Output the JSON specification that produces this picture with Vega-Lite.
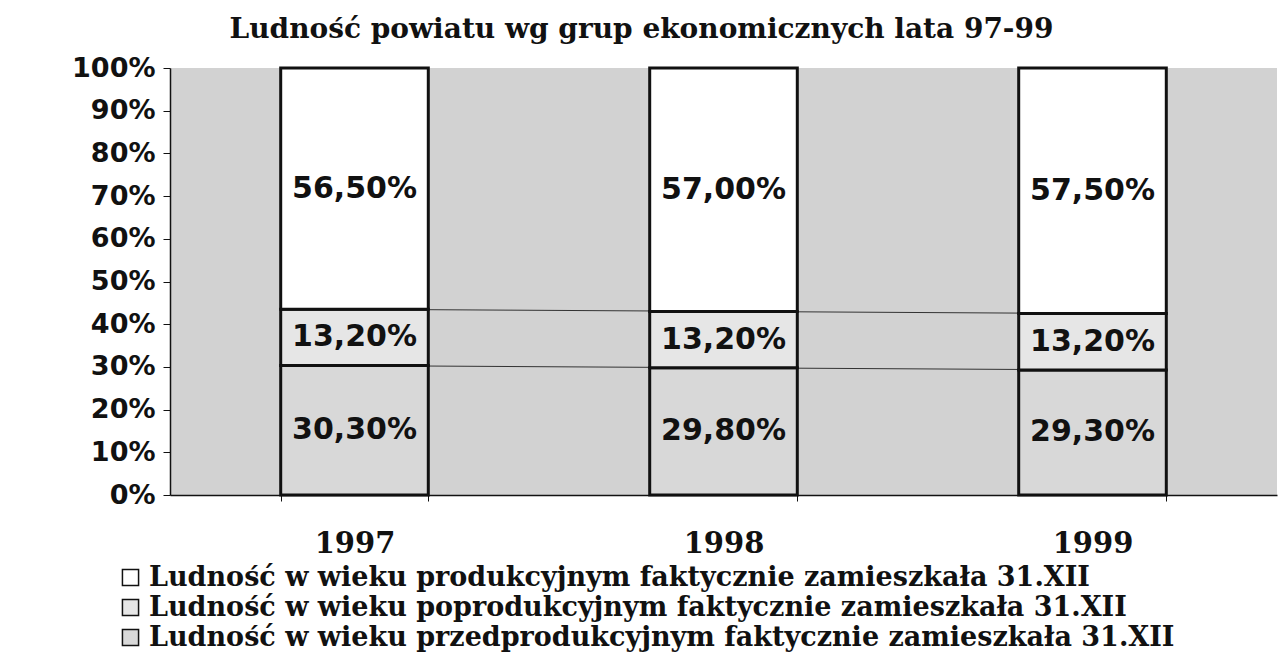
{
  "$schema": "https://vega.github.io/schema/vega-lite/v6.json",
  "width": 1107,
  "height": 427,
  "autosize": {"type": "none"},
  "padding": {"left": 170, "top": 68, "right": 9, "bottom": 167},
  "background": "white",
  "title": {
    "text": "Ludność powiatu wg grup ekonomicznych lata 97-99",
    "font": "DejaVu Serif",
    "fontSize": 28,
    "fontWeight": "bold",
    "color": "#111",
    "anchor": "middle",
    "dx": -82,
    "offset": 10
  },
  "config": {
    "locale": {"number": {"decimal": ",", "thousands": " ", "grouping": [3], "currency": ["", " zł"]}},
    "view": {"fill": "#d2d2d2", "stroke": null}
  },
  "data": {
    "values": [
      {"year": "1997", "category": "Ludność w wieku przedprodukcyjnym faktycznie zamieszkała 31.XII", "order": 1, "value": 0.303},
      {"year": "1997", "category": "Ludność w wieku poprodukcyjnym faktycznie zamieszkała 31.XII", "order": 2, "value": 0.132},
      {"year": "1997", "category": "Ludność w wieku produkcyjnym faktycznie zamieszkała 31.XII", "order": 3, "value": 0.565},
      {"year": "1998", "category": "Ludność w wieku przedprodukcyjnym faktycznie zamieszkała 31.XII", "order": 1, "value": 0.298},
      {"year": "1998", "category": "Ludność w wieku poprodukcyjnym faktycznie zamieszkała 31.XII", "order": 2, "value": 0.132},
      {"year": "1998", "category": "Ludność w wieku produkcyjnym faktycznie zamieszkała 31.XII", "order": 3, "value": 0.57},
      {"year": "1999", "category": "Ludność w wieku przedprodukcyjnym faktycznie zamieszkała 31.XII", "order": 1, "value": 0.293},
      {"year": "1999", "category": "Ludność w wieku poprodukcyjnym faktycznie zamieszkała 31.XII", "order": 2, "value": 0.132},
      {"year": "1999", "category": "Ludność w wieku produkcyjnym faktycznie zamieszkała 31.XII", "order": 3, "value": 0.575}
    ]
  },
  "transform": [
    {"stack": "value", "groupby": ["year"], "sort": [{"field": "order", "order": "ascending"}], "as": ["y0", "y1"]},
    {"calculate": "(datum.y0 + datum.y1) / 2", "as": "ymid"}
  ],
  "encoding": {
    "x": {
      "field": "year",
      "type": "nominal",
      "scale": {"paddingInner": 0.6, "paddingOuter": 0.3},
      "axis": {
        "title": null,
        "labelAngle": 0,
        "labelFont": "DejaVu Serif",
        "labelFontSize": 29,
        "labelFontWeight": "bold",
        "labelColor": "#111",
        "labelPadding": 28,
        "tickBand": "extent",
        "tickColor": "#111",
        "tickSize": 6,
        "domainColor": "#111",
        "domainWidth": 1.5
      }
    }
  },
  "layer": [
    {
      "transform": [{"filter": "datum.order < 3"}],
      "mark": {"type": "line", "color": "#333", "strokeWidth": 1},
      "encoding": {
        "y": {"field": "y1", "type": "quantitative"},
        "detail": {"field": "category"}
      }
    },
    {
      "mark": {"type": "bar", "stroke": "#111", "strokeWidth": 3},
      "encoding": {
        "y": {
          "field": "y0",
          "type": "quantitative",
          "scale": {"domain": [0, 1], "nice": false},
          "axis": {
            "title": null,
            "format": ".0%",
            "values": [0, 0.1, 0.2, 0.3, 0.4, 0.5, 0.6, 0.7, 0.8, 0.9, 1],
            "grid": false,
            "labelFont": "DejaVu Sans",
            "labelFontSize": 27,
            "labelFontWeight": "bold",
            "labelColor": "#111",
            "labelPadding": 8,
            "tickColor": "#111",
            "tickSize": 7,
            "domainColor": "#111",
            "domainWidth": 1.5
          }
        },
        "y2": {"field": "y1"},
        "fill": {
          "field": "category",
          "type": "nominal",
          "scale": {
            "domain": [
              "Ludność w wieku produkcyjnym faktycznie zamieszkała 31.XII",
              "Ludność w wieku poprodukcyjnym faktycznie zamieszkała 31.XII",
              "Ludność w wieku przedprodukcyjnym faktycznie zamieszkała 31.XII"
            ],
            "range": ["#ffffff", "#e6e6e6", "#d8d8d8"]
          },
          "legend": {
            "title": null,
            "orient": "none",
            "legendX": -53,
            "legendY": 496,
            "direction": "vertical",
            "symbolType": "square",
            "symbolSize": 260,
            "symbolStrokeColor": "#111",
            "symbolStrokeWidth": 1.5,
            "labelFont": "DejaVu Serif",
            "labelFontSize": 27,
            "labelFontWeight": "bold",
            "labelColor": "#111",
            "labelLimit": 1200,
            "rowPadding": 2,
            "labelOffset": 5
          }
        }
      }
    },
    {
      "mark": {"type": "text", "font": "DejaVu Sans", "fontSize": 30, "fontWeight": "bold", "color": "#111"},
      "encoding": {
        "y": {"field": "ymid", "type": "quantitative"},
        "text": {"field": "value", "type": "quantitative", "format": ".2%"}
      }
    }
  ]
}
